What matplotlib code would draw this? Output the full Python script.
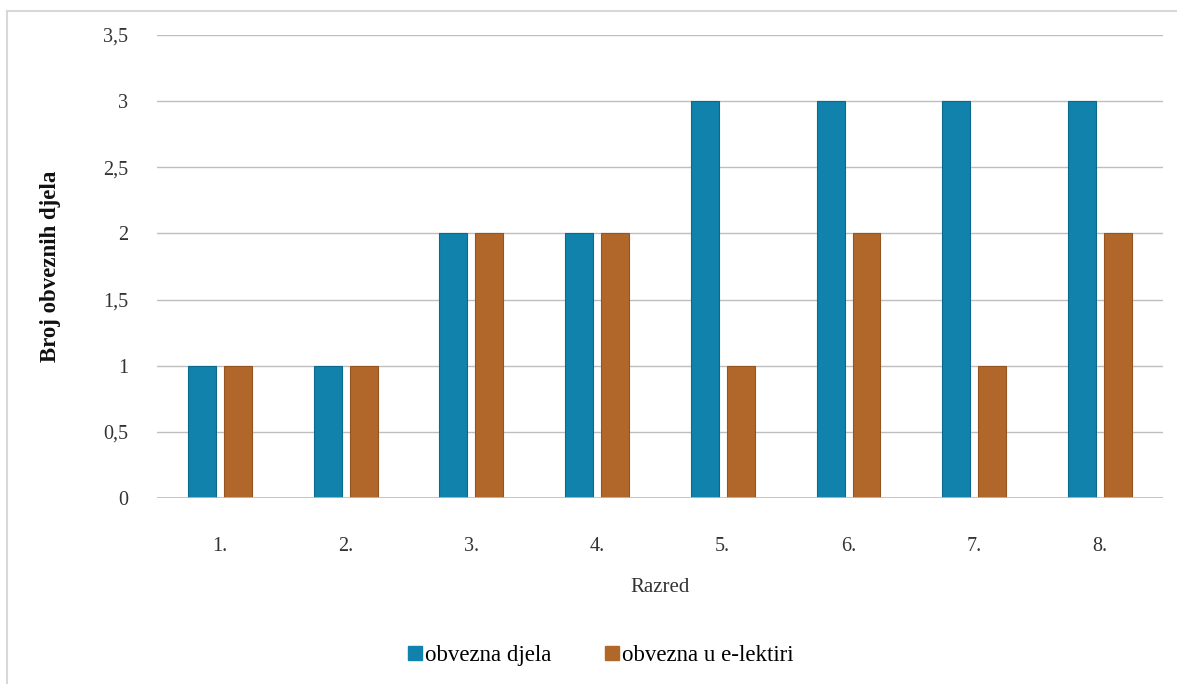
import matplotlib
matplotlib.use("Agg")
import matplotlib.pyplot as plt
import numpy as np
from matplotlib.lines import Line2D

# Data
razredi = ["1.", "2.", "3.", "4.", "5.", "6.", "7.", "8."]
obvezna_djela = [1, 1, 2, 2, 3, 3, 3, 3]
obvezna_e_lektiri = [1, 1, 2, 2, 1, 2, 1, 2]
y_ticks = [0, 0.5, 1, 1.5, 2, 2.5, 3, 3.5]
y_tick_labels = ["0", "0,5", "1", "1,5", "2", "2,5", "3", "3,5"]

plt.rcParams["font.family"] = ["Liberation Serif", "DejaVu Serif"]

blue = "#1082AC"
orange = "#B2672A"

fig = plt.figure(figsize=(11.77, 6.84), dpi=100)
ax = fig.add_axes([0.1334, 0.2719, 0.8546, 0.6769])

x = np.arange(len(razredi))
w = 0.222
off = 0.143
ax.bar(x - off, obvezna_djela, w, color=blue, edgecolor="#0B6A8C", linewidth=0.8, zorder=3)
ax.bar(x + off, obvezna_e_lektiri, w, color=orange, edgecolor="#93541F", linewidth=0.8, zorder=3)

ax.set_xlim(-0.5, len(razredi) - 0.5)
ax.set_ylim(0, 3.5)
ax.set_yticks(y_ticks)
ax.set_yticklabels(y_tick_labels, fontsize=14.5, color="#333333")
ax.set_xticks(x)
ax.set_xticklabels(razredi, fontsize=14.5, color="#333333")
ax.tick_params(axis="both", length=0)
ax.tick_params(axis="y", pad=21)
ax.tick_params(axis="x", pad=28)
ax.grid(axis="y", color="#BEBEBE", linewidth=1.0, zorder=0)
for s in ax.spines.values():
    s.set_visible(False)
ax.axhline(0, color="#BEBEBE", linewidth=1.2, zorder=4)

ax.set_xlabel("Razred", fontsize=15, color="#333333", labelpad=16)
ax.set_ylabel("Broj obveznih djela", fontsize=16.5, fontweight="bold", color="#111111", labelpad=30)

handles = [
    Line2D([0], [0], marker="s", linestyle="none", markersize=10, markerfacecolor=blue, markeredgecolor=blue),
    Line2D([0], [0], marker="s", linestyle="none", markersize=10, markerfacecolor=orange, markeredgecolor=orange),
]
fig.legend(handles, ["obvezna djela", "obvezna u e-lektiri"], loc="center",
           bbox_to_anchor=(0.51, 1 - 655 / 684), ncol=2, frameon=False,
           fontsize=16.5, handletextpad=0.1, columnspacing=2.3, handlelength=0.7)

# Outer frame on the left and top edges
fig.add_artist(Line2D([7 / 1177, 7 / 1177], [0, 1 - 11 / 684], transform=fig.transFigure, color="#D8D8D8", linewidth=1.5))
fig.add_artist(Line2D([7 / 1177, 1], [1 - 11 / 684, 1 - 11 / 684], transform=fig.transFigure, color="#D8D8D8", linewidth=1.5))

fig.savefig("out.png", dpi=100, facecolor="white")
